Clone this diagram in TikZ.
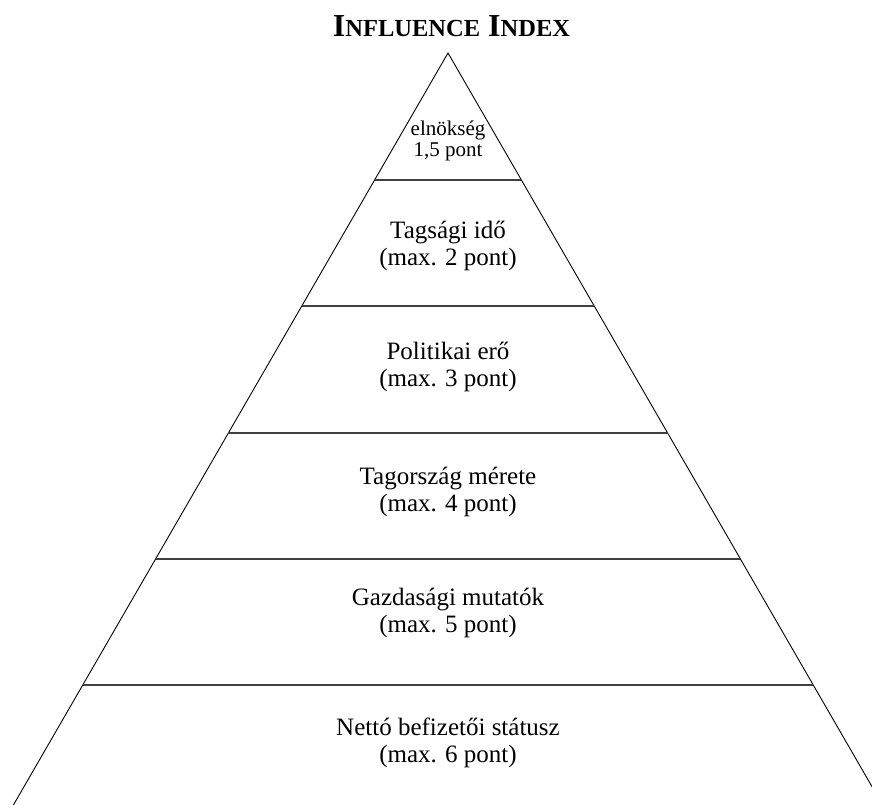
\documentclass[tikz,border=0pt]{standalone}
\usepackage{fontspec}
\setmainfont{Liberation Serif}
\usetikzlibrary{calc}

\begin{document}
\begin{tikzpicture}[x=1pt, y=-1pt,
    every node/.style={font=\fontsize{25}{27}\selectfont, align=center, inner sep=0pt},
    side/.style={draw=black, line width=0.9pt},
    layer/.style={draw=black!75, line width=1.8pt},
    title/.style={font=\bfseries\fontsize{32}{34}\selectfont, anchor=base},
    peak/.style={font=\fontsize{21}{21}\selectfont}
  ]
  \useasboundingbox (0,0) rectangle (872,805);
  \coordinate (apex) at (448,53);
  \coordinate (bl) at (13.4,805);
  \coordinate (br) at (882.6,805);
  \draw[side] (bl) -- (apex) -- (br);
  % levels of the pyramid
  \foreach \y in {180,306,433,559,685}
    \draw[layer] ($(apex)!{(\y-53)/752}!(bl)$) -- ($(apex)!{(\y-53)/752}!(br)$);

  \node[title] (title) at (451.5,37) {I{\fontsize{24.5}{26}\selectfont NFLUENCE} I{\fontsize{24.5}{26}\selectfont NDEX}};
  \node[peak] (elnokseg) at (448,141) {elnökség\\1,5 pont};
  \node (tagsag) at (448,246) {Tagsági idő\\(max. 2 pont)};
  \node (politika) at (448,367) {Politikai erő\\(max. 3 pont)};
  \node (meret) at (448,492) {Tagország mérete\\(max. 4 pont)};
  \node (gazdasag) at (448,613) {Gazdasági mutatók\\(max. 5 pont)};
  \node (netto) at (448,743) {Nettó befizetői státusz\\(max. 6 pont)};
\end{tikzpicture}
\end{document}
